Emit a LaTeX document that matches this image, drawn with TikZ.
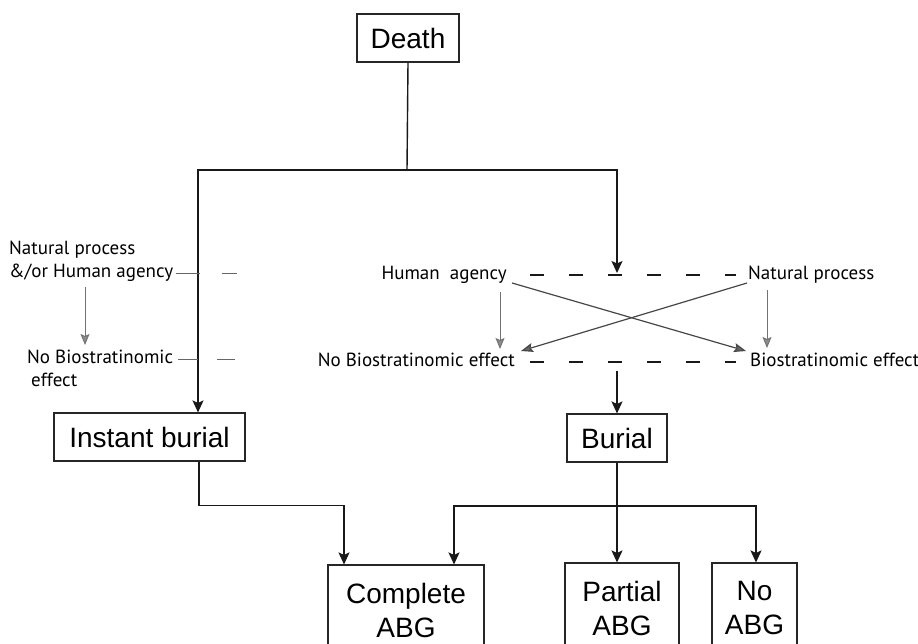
\documentclass[tikz,border=0pt]{standalone}
\usepackage{fontspec}
\setmainfont{Liberation Sans}
\newfontfamily\lblfont{PT Sans}
\usetikzlibrary{arrows.meta,calc}
\begin{document}
\begin{tikzpicture}[x=1pt,y=-1pt,
  box/.style={draw=black!85,line width=1.1pt,inner sep=0pt,align=center,
    font=\fontsize{28}{34}\selectfont},
  lbl/.style={inner sep=0pt,font=\lblfont\fontsize{19}{23}\selectfont,
    text height=13pt,text depth=4pt},
  conn/.style={line width=1.4pt,draw=black!90},
  arr/.style={conn,-{Stealth[length=12pt,width=11pt,inset=2.5pt]}},
  dashline/.style={line width=1.4pt,draw=black!90,dash pattern=on 14pt off 25pt},
  leftdash/.style={line width=0.8pt,draw=black!60},
  garr/.style={line width=1pt,draw=black!55,-{Stealth[length=11pt,width=9pt,inset=2pt,fill=black!45]}},
  carr/.style={line width=1.2pt,draw=black!72,-{Stealth[length=12pt,width=9pt,inset=2pt,fill=black!60]}}
]
\clip (0,0) rectangle (918,644);
\fill[white] (0,0) rectangle (918,644);

% main boxes
\node[box,minimum width=102pt,minimum height=48pt] (death) at (408,38) {Death};
\node[box,minimum width=191pt,minimum height=48pt] (ib) at (149.5,437) {Instant burial};
\node[box,minimum width=100pt,minimum height=48pt] (bur) at (617,438) {Burial};
\node[box,minimum width=156pt,minimum height=90pt] (comp) at (406,610) {Complete\\ABG};
\node[box,minimum width=114pt,minimum height=90pt] (part) at (622,608) {Partial\\ABG};
\node[box,minimum width=85pt,minimum height=90pt] (noabg) at (754.5,608) {No\\ABG};

% left labels
\node[lbl,anchor=west] (lnat) at (9,250) {Natural process};
\node[lbl,anchor=west] (lhum) at (9,273) {\&/or Human agency};
\node[lbl,anchor=west] (lnob) at (27,359) {No Biostratinomic};
\node[lbl,anchor=west] (leff) at (31,382) {effect};

% right labels
\node[lbl,anchor=east] (hum) at (507,275) {Human~ agency};
\node[lbl,anchor=west] (nat) at (748,275) {Natural process};
\node[lbl,anchor=east] (nob) at (515,362) {No Biostratinomic effect};
\node[lbl,anchor=west] (bio) at (750,362) {Biostratinomic effect};

% junction coordinates
\coordinate (j1) at (407,170);
\coordinate (rtip) at (617,273);
\coordinate (rstem) at (617,371);
\coordinate (bj) at (617,506);
\coordinate (ga1) at (85,287);
\coordinate (ga2) at (85,345);
\coordinate (gb1) at (500,292);
\coordinate (gb2) at (500,349);
\coordinate (gc1) at (767,290);
\coordinate (gc2) at (767,348);
\coordinate (hx) at (512,283);
\coordinate (nx) at (747,283);
\coordinate (bx) at (746,351);
\coordinate (ox) at (521,351);

% Death tree
\draw[conn] (death.south) -- (j1);
\draw[arr] (j1) -| ([xshift=48.5pt]ib.north);
\draw[arr] (j1) -| (rtip);

% dashed lines right
\draw[dashline] ([xshift=23pt]hum.east) -- ([xshift=-12pt]nat.west);
\draw[dashline] ([xshift=15pt]nob.east) -- ([xshift=-14pt]bio.west);

% dashes left
\draw[leftdash,dash pattern=on 24pt off 22pt on 15pt off 100pt]
  ([xshift=2pt]lhum.east) -- ++(62,0);
\draw[leftdash,dash pattern=on 20pt off 19pt on 18pt off 100pt]
  ([xshift=5pt]lnob.east) -- ++(58,0);

% gray arrows
\draw[garr] (ga1) -- (ga2);
\draw[garr] (gb1) -- (gb2);
\draw[garr] (gc1) -- (gc2);

% crossing arrows
\draw[carr] (hx) -- (bx);
\draw[carr] (nx) -- (ox);

% to burial
\draw[arr] (rstem) -- (bur.north);

% instant burial to complete
\draw[arr] ([xshift=49.5pt]ib.south) -- ++(0,44) -| ([xshift=-62pt]comp.north);

% burial branches
\draw[arr] (bur.south) -- (bur.south |- part.north);
\draw[arr] (bj) -| ([xshift=48pt]comp.north);
\draw[arr] (bj) -| ([xshift=1.5pt]noabg.north);
\end{tikzpicture}
\end{document}
